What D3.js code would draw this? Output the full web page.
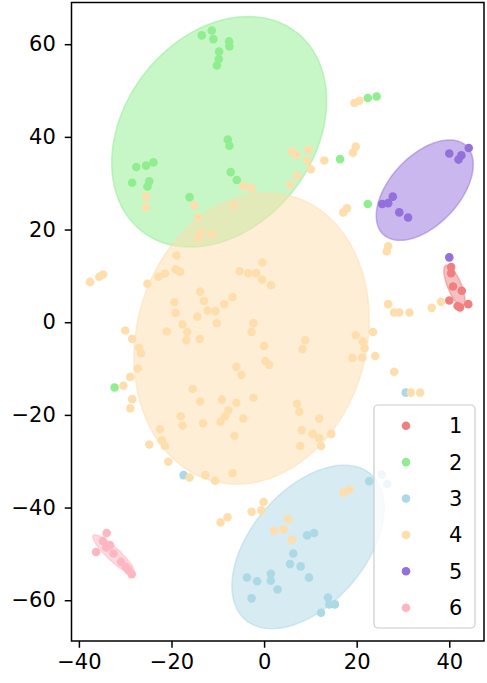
<!DOCTYPE html>
<html>
<head>
<meta charset="utf-8">
<script src="https://cdn.jsdelivr.net/npm/d3@7"></script>
<style>
  html, body { margin: 0; padding: 0; background: #fff; }
  svg { display: block; font-family: "DejaVu Sans", sans-serif; }
</style>
</head>
<body>
<svg id="chart" width="487" height="683"></svg>
<script>
// Cluster labels and their colours
const clusterNames = ["1", "2", "3", "4", "5", "6"];
const clusterColors = ["#F08080", "#90EE90", "#ADD8E6", "#FFDEAD", "#9370DB", "#FFB6C1"];

// Embedding coordinates, one list of [x, y] per cluster
const cluster1 = [
  [40.4, 11.9], [40.4, 10.6], [40.8, 7.7], [42.7, 6.8], [40.0, 4.7],
  [41.8, 3.5], [42.3, 3.2], [44.1, 3.9]
];
const cluster2 = [
  [-13.46, 61.9], [-11.3, 62.96], [-10.95, 61.1], [-7.56, 60.6], [-7.49, 59.5],
  [-9.72, 58.4], [-9.78, 56.8], [-10.2, 55.4], [-7.84, 39.4], [-7.49, 38.1],
  [-27.6, 33.5], [-25.5, 33.8], [-23.9, 34.5], [-28.5, 30.1], [-24.8, 30.4],
  [-25.2, 29.3], [-16.1, 27.0], [-7.2, 32.4], [-5.9, 30.7], [22.4, 48.4],
  [24.3, 48.7], [16.4, 35.2], [22.4, 25.5], [-32.3, -14.1]
];
const cluster3 = [
  [-17.4, -33.0], [30.6, -15.2], [22.7, -34.3], [25.4, -32.9], [26.6, -34.9],
  [9.3, -46.0], [10.8, -45.5], [6.3, -49.9], [5.6, -52.2], [7.9, -52.7],
  [9.7, -55.1], [-3.7, -55.1], [-1.5, -55.9], [1.45, -54.3], [1.45, -55.8],
  [2.9, -57.7], [-2.7, -59.6], [13.8, -59.4], [14.1, -60.9], [15.3, -60.9],
  [12.3, -62.7]
];
const cluster4 = [
  [19.5, 47.3], [20.6, 47.8], [6.0, 36.8], [7.1, 36.1], [9.6, 37.2],
  [9.3, 34.9], [10.1, 33.0], [7.1, 31.6], [5.6, 29.6], [13.0, 34.9],
  [19.8, 37.9], [19.2, 36.6], [-4.5, 29.4], [-2.7, 28.9], [-25.5, 27.1],
  [-25.5, 24.8], [-15.1, 25.2], [-14.3, 22.6], [-6.5, 25.2], [-13.5, 19.3],
  [-14.3, 18.1], [-11.3, 18.9], [17.9, 24.6], [17.1, 23.7], [26.8, 16.4],
  [26.5, 15.3], [-18.9, 14.4], [-19.1, 11.4], [-18.1, 10.9], [-21.4, 10.5],
  [-22.8, 9.8], [-25.2, 8.3], [-34.8, 10.3], [-35.6, 9.8], [-37.6, 8.7],
  [-5.3, 11.0], [-3.4, 10.6], [-1.7, 10.6], [-0.4, 12.9], [-0.4, 9.2],
  [1.5, 8.0], [-13.8, 6.6], [-13.0, 4.6], [-6.8, 5.4], [-8.6, 3.9],
  [-12.2, 2.5], [-10.5, 2.4], [-14.4, 1.2], [-10.2, -0.2], [-19.4, 4.3],
  [-19.1, 2.0], [-17.6, -0.5], [-16.6, -2.1], [-16.8, -3.9], [-13.9, -3.6],
  [-21.0, -2.0], [-30.0, -1.8], [-28.5, -3.6], [-27.0, -5.5], [-26.6, -6.7],
  [-27.3, -10.0], [-28.9, -11.8], [-30.4, -13.7], [-28.5, -16.6], [-28.9, -18.6],
  [-2.3, -0.2], [-2.7, -2.1], [0.0, -5.1], [0.3, -8.4], [1.1, -9.2],
  [-6.0, -9.6], [-4.9, -11.4], [-15.4, -14.4], [-13.8, -17.1], [-9.1, -16.7],
  [-6.0, -17.4], [-2.3, -16.3], [-4.5, -20.8], [-7.7, -19.0], [-8.4, -20.3],
  [-9.4, -21.5], [-6.4, -24.5], [-18.0, -20.3], [-17.6, -22.3], [-13.2, -21.8],
  [-22.5, -23.1], [-22.1, -25.5], [-24.8, -26.4], [-21.4, -26.7], [-20.7, -30.1],
  [-16.1, -33.5], [-12.7, -33.0], [-10.6, -34.2], [-6.8, -32.6], [-0.1, -38.8],
  [-0.6, -40.6], [-2.7, -40.9], [-7.9, -42.1], [-9.4, -43.2], [5.2, -42.5],
  [4.2, -44.7], [2.2, -45.0], [6.0, -46.9], [17.1, -36.8], [18.4, -36.1],
  [8.9, -3.9], [8.3, -5.8], [7.1, -17.6], [7.6, -19.3], [11.9, -20.8],
  [8.1, -23.3], [10.5, -24.1], [11.9, -25.0], [14.5, -24.1], [7.8, -26.7],
  [12.3, -26.7], [19.8, -2.8], [23.5, -2.1], [21.3, -4.2], [21.7, -5.6],
  [19.1, -7.7], [21.2, -7.6], [24.0, -7.3], [28.1, -10.7], [31.7, -15.2],
  [33.7, -15.2], [26.8, 3.9], [28.1, 2.1], [29.2, 2.1], [31.4, 2.1],
  [36.2, 3.1], [38.2, 4.4]
];
const cluster5 = [
  [40.0, 36.4], [42.0, 35.1], [42.6, 36.0], [44.2, 37.6], [25.5, 25.5],
  [26.8, 25.7], [27.8, 27.1], [29.2, 23.7], [31.1, 22.6], [40.0, 14.0]
];
const cluster6 = [
  [-34.0, -45.5], [-34.8, -47.2], [-36.3, -49.6], [-34.1, -48.6], [-33.3, -48.1],
  [-32.5, -49.9], [-30.9, -51.7], [-29.9, -52.8], [-29.3, -53.5], [-28.6, -54.4]
];
const clusters = [cluster1, cluster2, cluster3, cluster4, cluster5, cluster6];

// Confidence ellipses per cluster: centre x, centre y, width, height, angle (degrees)
const ellipseCx = [41.1, -9.7, 9.5, -2.7, 34.7, -32.5];
const ellipseCy = [7.9, 41.1, -48.5, -3.5, 28.5, -50.1];
const ellipseWidth = [9.5, 54.4, 41.5, 63.8, 26.2, 12.0];
const ellipseHeight = [2.95, 40.9, 24.6, 49.7, 14.9, 2.8];
const ellipseAngle = [-67.5, 52.2, 49.2, 74.6, 46.9, -43.0];

// Axis ticks
const xTicks = [-40, -20, 0, 20, 40];
const yTicks = [-60, -40, -20, 0, 20, 40, 60];

const svg = d3.select("#chart");
const plot = { left: 71.5, right: 484, top: 2.5, bottom: 641 };

const x = d3.scaleLinear().domain([-41.6, 47.5]).range([plot.left, plot.right]);
const y = d3.scaleLinear().domain([-68.8, 69.0]).range([plot.bottom, plot.top]);

// Ellipses
const ellipseLine = d3.line().x(p => x(p[0])).y(p => y(p[1]));
const ellipseGroup = svg.append("g").attr("class", "ellipses");
clusterNames.forEach((name, i) => {
  const a = ellipseWidth[i] / 2, b = ellipseHeight[i] / 2;
  const th = ellipseAngle[i] * Math.PI / 180;
  const pts = d3.range(0, 361, 3).map(deg => {
    const t = deg * Math.PI / 180;
    return [
      ellipseCx[i] + a * Math.cos(th) * Math.cos(t) - b * Math.sin(th) * Math.sin(t),
      ellipseCy[i] + a * Math.sin(th) * Math.cos(t) + b * Math.cos(th) * Math.sin(t)
    ];
  });
  ellipseGroup.append("path")
    .attr("d", ellipseLine(pts) + "Z")
    .attr("fill", clusterColors[i])
    .attr("fill-opacity", 0.5)
    .attr("stroke", clusterColors[i])
    .attr("stroke-opacity", 0.5)
    .attr("stroke-width", 1.5);
});

// Points
const pointGroup = svg.append("g").attr("class", "points");
clusters.forEach((pts, i) => {
  pointGroup.selectAll(null)
    .data(pts)
    .enter().append("circle")
    .attr("cx", d => x(d[0]))
    .attr("cy", d => y(d[1]))
    .attr("r", 4.3)
    .attr("fill", clusterColors[i]);
});

// Frame
svg.append("rect")
  .attr("x", plot.left).attr("y", plot.top)
  .attr("width", plot.right - plot.left).attr("height", plot.bottom - plot.top)
  .attr("fill", "none").attr("stroke", "#000").attr("stroke-width", 1.5);

// Axes
const fmt = d3.format("d");
const xAxis = svg.append("g")
  .attr("transform", `translate(0,${plot.bottom})`)
  .call(d3.axisBottom(x).tickValues(xTicks).tickFormat(fmt).tickSize(6.75).tickPadding(6));
const yAxis = svg.append("g")
  .attr("transform", `translate(${plot.left},0)`)
  .call(d3.axisLeft(y).tickValues(yTicks).tickFormat(fmt).tickSize(6.75).tickPadding(9));
[xAxis, yAxis].forEach(g => {
  g.select(".domain").remove();
  g.selectAll(".tick line").attr("stroke", "#000").attr("stroke-width", 1.5);
  g.selectAll(".tick text")
    .attr("fill", "#000")
    .style("font-family", "'DejaVu Sans', sans-serif")
    .style("font-size", "21px");
});

// Legend
const legend = svg.append("g").attr("class", "legend");
legend.append("rect")
  .attr("x", 374).attr("y", 405).attr("width", 101).attr("height", 223)
  .attr("rx", 4).attr("ry", 4)
  .attr("fill", "#fff").attr("fill-opacity", 0.8)
  .attr("stroke", "#cccccc").attr("stroke-width", 1.2);
clusterNames.forEach((name, i) => {
  const cy = 425.7 + i * 36.4;
  legend.append("circle")
    .attr("cx", 406).attr("cy", cy).attr("r", 4.3)
    .attr("fill", clusterColors[i]);
  legend.append("text")
    .attr("x", 449).attr("y", cy + 7.5)
    .attr("fill", "#000")
    .style("font-size", "21px")
    .text(name);
});
</script>
</body>
</html>
